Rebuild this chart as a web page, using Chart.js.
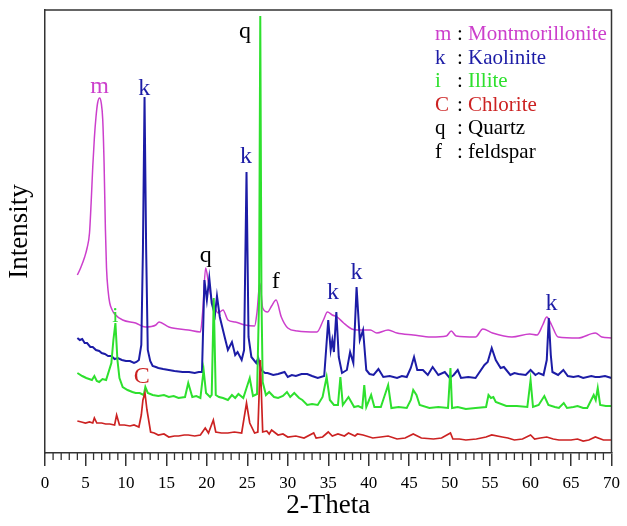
<!DOCTYPE html>
<html>
<head>
<meta charset="utf-8">
<script src="https://cdn.jsdelivr.net/npm/chart.js@4"></script>
<style>
html,body{margin:0;padding:0;background:#fff;}
canvas{display:block;}
</style>
</head>
<body>
<canvas id="c" width="627" height="526"></canvas>
<script>
// ---- Data (2-Theta, intensity in arbitrary units) ----
const montX = [4.0,4.4,4.9,5.2,5.5,5.7,5.9,6.1,6.3,6.5,6.75,6.95,7.13,7.3,7.46,7.6,7.8,8.0,8.3,8.6,9.6,11.2,12.4,13.7,14.1,15.3,17.7,19.2,19.5,19.85,20.2,20.6,21.0,21.4,22.0,22.6,23.5,24.7,25.9,26.2,26.55,26.9,27.5,28.0,28.55,29.2,30.0,31.2,33.6,34.4,34.9,35.5,36.1,36.9,37.9,38.6,39.4,40.2,41.0,42.4,43.5,45.5,47.7,49.6,50.2,50.8,53.2,54.1,55.3,57.7,59.9,60.8,61.5,62.0,62.6,63.4,65.9,68.0,68.8,70.0];
const montY = [178,185,196,205,220,250,286,315,336,350,355,350,334,290,225,185,162,150,143,139,133,130,126,128,131,126,123,121,143,185,170,153,145,140,143,133,131,128,127,141,170,145,141,147,153,136,125,122,121,133,141,138,136,130,124,123,123,123,120,123,120,118,116,117,122,117,116,124,120,116,119,118,128,136,128,116,115,120,116,115];

const kaolX = [4.0,4.3,4.6,4.9,5.2,5.6,5.9,6.3,6.7,7.0,7.4,7.8,8.2,8.6,9.0,9.5,10.0,10.5,11.0,11.3,11.6,11.9,12.1,12.3,12.5,12.7,13.0,13.3,13.7,14.0,14.6,15.3,16.0,17.0,17.8,18.5,19.0,19.4,19.7,20.0,20.3,20.6,21.0,21.25,21.6,22.2,22.6,23.1,23.5,23.8,24.3,24.6,24.9,25.15,25.5,26.1,26.35,26.7,27.2,27.5,28.2,28.8,29.6,30.0,30.5,31.0,31.7,32.4,33.0,33.7,34.5,35.0,35.3,35.5,35.7,36.0,36.3,36.7,37.3,37.7,38.1,38.5,38.9,39.3,39.7,40.1,40.6,41.2,41.8,42.6,43.5,44.1,44.7,45.2,45.6,46.0,46.7,47.3,47.9,48.6,49.4,50.0,50.5,51.0,51.4,52.3,53.2,54.3,54.7,55.2,55.7,56.3,56.7,57.5,58.0,58.5,59.4,60.0,60.6,61.0,61.6,62.0,62.25,62.5,62.7,63.4,64.05,64.6,65.3,65.9,66.5,67.5,68.0,68.5,69.2,70.0];
const kaolY = [115,113,114,110,110,106,106,103,102,100,99,97,97,94,95,93,92,92,90,91,93,108,203,356,203,103,92,87,86,85,84,83,82,81,81,80,81,81,173,153,175,150,138,157,136,116,103,111,98,101,93,103,281,116,96,90,95,83,80,80,78,79,81,76,78,77,79,79,77,75,77,133,103,113,101,141,96,80,83,101,90,166,113,123,83,79,78,84,76,77,75,77,76,85,96,83,83,78,86,78,81,75,78,83,75,76,75,88,91,105,93,85,86,78,80,79,78,83,78,80,78,93,135,98,81,78,83,77,76,77,75,77,76,76,77,75];

const illX = [4.0,4.6,5.1,5.8,6.1,6.4,6.7,7.1,7.55,8.2,8.45,8.7,8.95,9.2,9.6,10.2,10.8,11.2,11.7,12.2,12.4,12.7,13.3,14.0,14.7,15.3,15.9,16.5,17.3,17.7,18.2,18.7,19.2,19.6,19.9,20.4,20.6,20.85,21.1,21.5,22.0,22.6,23.1,23.5,23.9,24.5,25.3,25.7,26.2,26.45,26.6,26.75,26.9,27.3,27.7,28.3,28.8,29.4,29.9,30.3,30.8,31.4,31.8,32.4,33.0,33.7,34.3,34.8,35.2,35.7,36.2,36.5,36.8,37.5,38.2,38.7,39.2,39.45,39.7,40.3,40.7,41.5,42.4,42.8,43.7,44.7,45.2,45.5,45.9,46.3,47.5,48.6,49.8,50.1,50.3,51.0,52.0,53.2,54.5,54.8,55.1,55.4,55.7,57.0,58.3,59.6,60.0,60.3,61.0,61.7,62.2,63.0,63.5,64.1,64.5,65.3,65.8,66.5,67.0,67.8,68.05,68.3,68.6,69.3,70.0];
const illY = [80,77,75,73,77,72,71,74,73,90,113,130,93,75,66,63,61,60,60,58,66,60,58,57,58,56,57,55,56,70,56,57,55,83,60,56,58,155,58,56,55,53,58,55,59,55,75,57,59,153,437,153,71,58,61,56,55,57,61,56,60,55,53,48,49,48,56,76,53,48,48,76,48,56,46,47,45,68,46,58,46,46,68,45,46,45,53,63,58,48,45,46,45,85,45,46,44,45,46,58,55,56,51,47,47,46,73,46,48,57,48,46,45,50,45,46,47,45,45,58,53,65,48,47,47];

const chloX = [4.0,4.5,5.0,5.5,5.9,6.1,6.4,7.0,7.5,8.0,8.6,8.85,9.2,9.8,10.5,11.0,11.6,11.9,12.1,12.35,12.6,13.05,13.5,14.0,14.7,15.3,16.0,16.5,17.2,17.7,18.5,19.2,19.8,20.2,20.8,21.1,21.8,22.6,23.4,24.3,24.9,25.3,25.9,26.3,26.6,26.9,27.4,27.7,28.0,28.8,29.4,30.0,31.0,32.0,33.2,33.5,34.3,35.0,35.5,36.2,37.0,37.5,38.3,38.6,39.3,40.5,41.5,42.4,43.5,44.5,45.5,46.5,48.0,49.0,50.1,50.4,51.2,52.0,53.3,54.5,55.2,56.5,57.2,58.0,59.0,60.0,60.5,61.2,62.0,62.8,63.5,65.0,65.8,66.5,67.2,68.0,69.0,70.0];
const chloY = [32,31,30,31,30,35,30,30,29,29,28,38,28,28,27,28,26,38,53,60,43,21,20,18,19,16,17,17,18,18,17,18,25,20,33,21,20,20,21,20,50,30,20,21,93,21,22,19,23,18,19,16,17,15,20,15,16,21,17,19,17,20,17,19,18,15,16,17,14,15,19,15,14,15,20,14,14,13,14,16,18,16,15,13,14,18,14,15,16,14,13,13,14,12,13,16,13,13];

const xTickStep = 5;
const seriesNames = ['Montmorillonite','Kaolinite','Illite','Chlorite'];
const legendLetters = ['m','k','i','C','q','f'];
const legendWords = ['Montmorillonite','Kaolinite','Illite','Chlorite','Quartz','feldspar'];

// peak labels: [letter, x (2-Theta), y (intensity units, text baseline), colour key]
const peakLabels = [
  ['m',6.75,360,'m'],['k',12.25,358,'k'],['k',24.85,290,'k'],['q',24.7,415,'q'],
  ['q',19.85,191,'q'],['f',28.5,165,'q'],['k',35.6,154,'k'],['k',38.5,174,'k'],
  ['k',62.6,143,'k'],['i',8.7,131,'i'],['C',11.95,70,'C']
];

const COL = {m:'#cc3fcc', k:'#1c1ca6', i:'#2ee02e', C:'#cc2222', q:'#000000', f:'#000000'};
const SERIF = "'Liberation Serif','Times New Roman',serif";

const zip = (xs, ys) => xs.map((x, i) => ({x, y: ys[i]}));

const frame = {
  id: 'frame',
  afterDraw(chart) {
    const {ctx, chartArea: a, scales} = chart;
    const xs = scales.x;
    ctx.save();
    ctx.strokeStyle = '#333';
    ctx.lineWidth = 1.5;
    ctx.beginPath();
    ctx.moveTo(a.left, a.top); ctx.lineTo(a.right, a.top); ctx.lineTo(a.right, a.bottom);
    ctx.stroke();
    // minor ticks
    ctx.lineWidth = 1.3;
    for (let v = xs.min; v <= xs.max; v++) {
      if (v % xTickStep === 0) continue;
      const px = xs.getPixelForValue(v);
      ctx.beginPath(); ctx.moveTo(px, a.bottom); ctx.lineTo(px, a.bottom + 7); ctx.stroke();
    }
    // peak labels
    ctx.textAlign = 'center';
    ctx.textBaseline = 'alphabetic';
    const ys = scales.y;
    peakLabels.forEach(([t, x, y, c]) => {
      ctx.font = (t === 'i' ? '22px ' : '24px ') + SERIF;
      ctx.fillStyle = COL[c];
      ctx.fillText(t, xs.getPixelForValue(x), ys.getPixelForValue(y));
    });
    // legend text block
    ctx.textAlign = 'left';
    ctx.font = '21px ' + SERIF;
    const lx = a.left + 390, cx = a.left + 412;
    legendLetters.forEach((l, i) => {
      const by = a.top + 30 + i * 23.5;
      ctx.fillStyle = COL[l];
      ctx.fillText(l, lx, by);
      ctx.fillStyle = '#000';
      ctx.fillText(':', cx, by);
      ctx.fillStyle = COL[l];
      ctx.fillText(legendWords[i], cx + 11, by);
    });
    ctx.restore();
  }
};

const mk = (label, data, color, w, order, smooth) => ({
  label, data, borderColor: color, borderWidth: w, pointRadius: 0, fill: false, order,
  tension: smooth ? 0.4 : 0, cubicInterpolationMode: smooth ? 'monotone' : 'default'
});

new Chart(document.getElementById('c'), {
  type: 'line',
  data: {
    datasets: [
      mk(seriesNames[0], zip(montX, montY), COL.m, 1.5, 4, true),
      mk(seriesNames[1], zip(kaolX, kaolY), COL.k, 2, 3, false),
      mk(seriesNames[2], zip(illX, illY), COL.i, 2, 2, false),
      mk(seriesNames[3], zip(chloX, chloY), COL.C, 1.7, 1, false)
    ]
  },
  options: {
    responsive: false,
    devicePixelRatio: 1,
    animation: false,
    layout: {padding: {top: 10, right: 9, left: 0, bottom: 0}},
    plugins: {legend: {display: false}, tooltip: {enabled: false}},
    scales: {
      x: {
        type: 'linear', min: 0, max: 70,
        afterFit(s) { s.height = 73; },
        border: {display: true, color: '#333', width: 1.5},
        grid: {
          drawOnChartArea: false, drawTicks: true, tickLength: 13, lineWidth: 1.5,
          color: (c) => (c.tick && c.tick.value % xTickStep === 0) ? '#333' : 'rgba(0,0,0,0)'
        },
        ticks: {
          stepSize: 1, autoSkip: false, maxRotation: 0, padding: 7,
          color: '#000', font: {family: SERIF, size: 17},
          callback: (v) => (v % xTickStep === 0 ? String(v) : '')
        },
        title: {display: true, text: '2-Theta', color: '#000', font: {family: SERIF, size: 27}}
      },
      y: {
        type: 'linear', min: 0, max: 443,
        afterFit(s) { s.width = 45; },
        border: {display: true, color: '#333', width: 1.5},
        grid: {display: false},
        ticks: {display: false},
        title: {display: true, text: 'Intensity', color: '#000', font: {family: SERIF, size: 27}}
      }
    }
  },
  plugins: [frame]
});
</script>
</body>
</html>
